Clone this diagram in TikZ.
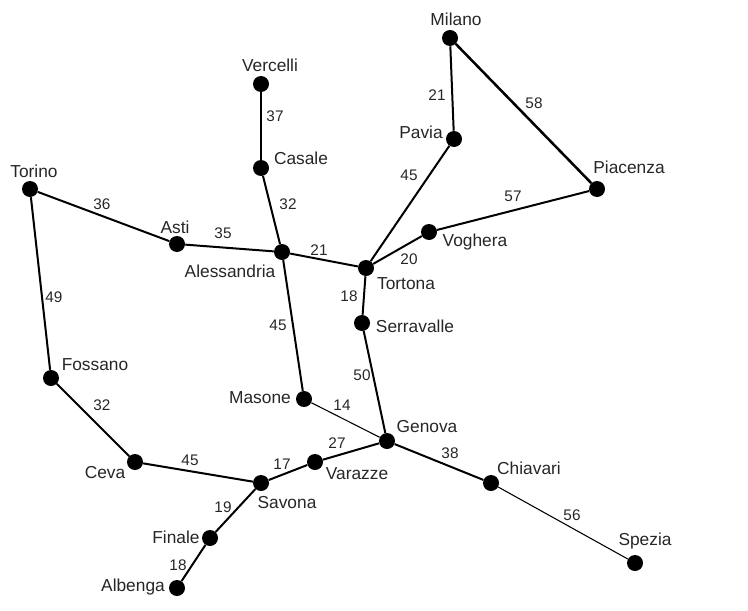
\documentclass[tikz,border=0pt]{standalone}
\usepackage{fontspec}
\setmainfont{Liberation Sans}
\tikzset{
	city/.style={circle,fill=black,inner sep=0pt,minimum size=12pt},
	cityname/.style={font=\fontsize{13}{14}\selectfont,inner sep=0pt,text=black!85},
	citydist/.style={font=\fontsize{11.5}{12}\selectfont,inner sep=0pt,text=black!85},
	road/.style={line width=1.5pt},
	thickroad/.style={line width=1.9pt},
	thinroad/.style={line width=.8pt}
}
\begin{document}
\begin{tikzpicture}[x=.75pt,y=-.75pt]
	\useasboundingbox (0,0) rectangle (748,610);

	\foreach \id/\x/\y in {mil/450/38, pia/597/189, pav/454/139, ver/261/84, cas/261/168,
		tor/30/189, ast/177/244, ale/282/252, ton/366/268, vog/429/232, ser/362/323,
		fos/51/378, mas/304/399, gen/387/441, chi/491/483, spe/635/563,
		cev/135/462, var/315/462, sav/261/483, fin/210/538, alb/177/588}{
		\node[city] (\id) at (\x,\y) {};
	}

	\foreach \a/\b in {mil/pav, pav/ton, pia/vog, vog/ton, cas/ale, tor/ast, ast/ale,
		ale/ton, ton/ser, ser/gen, ale/mas, tor/fos, fos/cev, cev/sav, sav/var, var/gen,
		gen/chi, sav/fin, fin/alb}{
		\draw[road] (\a) -- (\b);
	}
	\draw[thickroad] (mil) -- (pia);
	\draw[thinroad] (ver) -- (cas);
	\draw[thinroad] (mas) -- (gen);
	\draw[thinroad] (chi) -- (spe);

	\foreach \id/\x/\y/\t in {n1/456/19/Milano, n2/629/167/Piacenza, n3/421/132/Pavia,
		n4/270/65/Vercelli, n5/301/158/Casale, n6/34/171/Torino, n7/175/227/Asti,
		n8/230/271/Alessandria, n9/475/242/Voghera, n10/406/284/Tortona, n11/415/326/Serravalle,
		n12/95/365/Fossano, n13/260/398/Masone, n14/427/427/Genova, n15/529/468/Chiavari,
		n16/645/541/Spezia, n17/105/473/Ceva, n18/357/474/Varazze, n19/287/503/Savona,
		n20/176/537/Finale, n21/133/587/Albenga}{
		\node[cityname] (\id) at (\x,\y) {\t};
	}

	\foreach \id/\x/\y/\t in {d1/437/95/21, d2/534/103/58, d3/409/175/45, d4/513/196/57,
		d5/275/116/37, d6/288/204/32, d7/102/204/36, d8/223/233/35, d9/319/250/21,
		d10/409/259/20, d11/349/296/18, d12/54/297/49, d13/278/325/45, d14/362/375/50,
		d15/102/405/32, d16/342/405/14, d17/337/443/27, d18/450/453/38, d19/190/460/45,
		d20/282/464/17, d21/223/507/19, d22/178/565/18, d23/572/515/56}{
		\node[citydist] (\id) at (\x,\y) {\t};
	}
\end{tikzpicture}
\end{document}
